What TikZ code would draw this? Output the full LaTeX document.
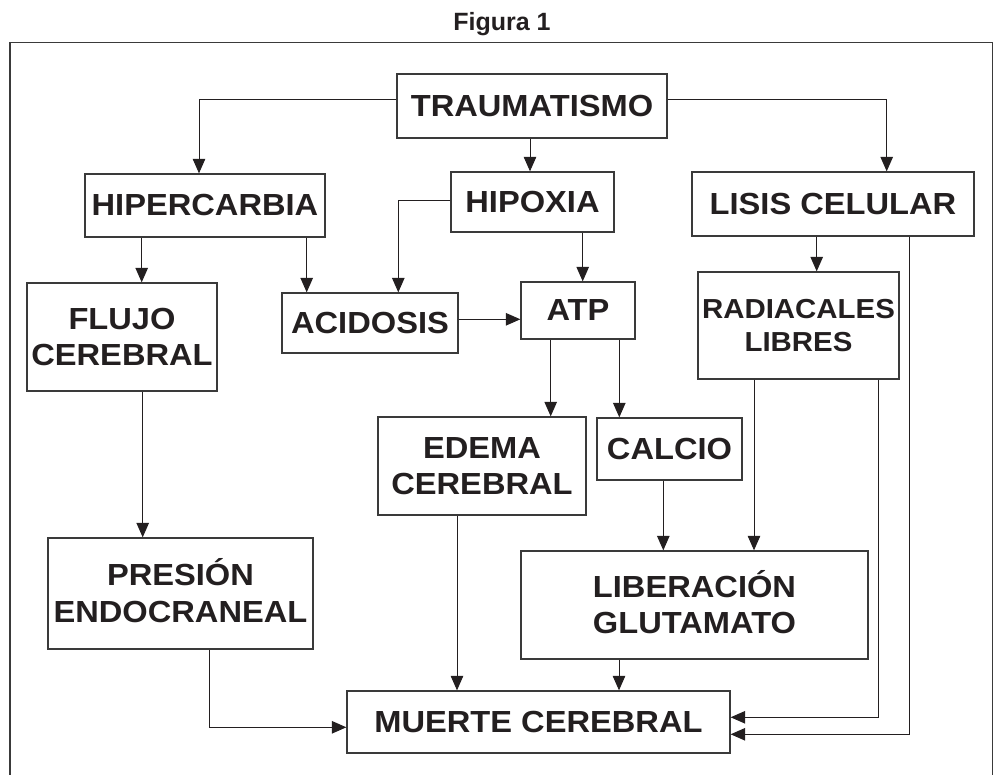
\documentclass[tikz,border=0pt]{standalone}
\usepackage{fontspec}
\setmainfont{Liberation Sans}
\newfontfamily\boxfont{Liberation Sans}[FakeStretch=1.07]
\usetikzlibrary{arrows.meta,calc}
\definecolor{ink}{HTML}{231F20}
\definecolor{edge}{HTML}{3A3A3A}
\tikzset{
  box/.style={draw=edge, line width=1.3pt, inner sep=0pt, text=ink,
    font=\boxfont\bfseries\fontsize{30.5}{36.5}\selectfont, align=center},
  conn/.style={draw=ink, line width=1pt, -{Triangle[length=14.5pt,width=12.5pt]}},
  plain/.style={draw=ink, line width=1pt}
}
\begin{document}
\begin{tikzpicture}[x=1pt,y=-1pt]
\useasboundingbox (0,0) rectangle (994,775);
% frame (open at the bottom)
\draw[edge, line width=1.3pt] (10,775) -- (10,42.5) -- (992.5,42.5) -- (992.5,775);
\node[anchor=base, text=ink, font=\bfseries\fontsize{25}{30}\selectfont] (title) at (502,30.7) {Figura 1};

% boxes
\node[box, minimum width=270pt, minimum height=64pt] (trauma) at (532,106) {TRAUMATISMO};
\node[box, minimum width=240pt, minimum height=63pt] (hiper) at (205,205.5) {HIPERCARBIA};
\node[box, minimum width=163pt, minimum height=60pt] (hipox) at (532.5,202) {HIPOXIA};
\node[box, minimum width=282pt, minimum height=64pt] (lisis) at (833,204) {LISIS CELULAR};
\node[box, minimum width=190pt, minimum height=108pt] (flujo) at (122,337) {FLUJO\\CEREBRAL};
\node[box, minimum width=176pt, minimum height=60pt] (acid) at (370,323) {ACIDOSIS};
\node[box, minimum width=114pt, minimum height=57pt] (atp) at (578,310.5) {ATP};
\node[box, minimum width=201pt, minimum height=107pt,
      font=\boxfont\bfseries\fontsize{27.5}{32.5}\selectfont] (radi) at (798.5,325.5) {RADIACALES\\LIBRES};
\node[box, minimum width=208pt, minimum height=98pt] (edema) at (482,466) {EDEMA\\CEREBRAL};
\node[box, minimum width=145pt, minimum height=62pt] (calcio) at (669.5,449) {CALCIO};
\node[box, minimum width=265pt, minimum height=111pt] (presion) at (180.5,593.5) {PRESI\smash{Ó}N\\ENDOCRANEAL};
\node[box, minimum width=347pt, minimum height=108pt] (liber) at (694.5,605) {LIBERACI\smash{Ó}N\\GLUTAMATO};
\node[box, minimum width=383pt, minimum height=62pt] (muerte) at (538.5,722) {MUERTE CEREBRAL};

% connectors
\draw[conn] ($(trauma.west)+(0,-6)$) -| ($(hiper.north)+(-6,0)$);
\draw[conn] ($(trauma.south)+(-2,0)$) coordinate (c1) -- (c1 |- hipox.north);
\draw[conn] ($(trauma.east)+(0,-6)$) -| ($(lisis.north)+(53.7,0)$);
\draw[conn] ($(hiper.south)+(-63.3,0)$) coordinate (c2) -- (c2 |- flujo.north);
\draw[conn] ($(hiper.south)+(101.7,0)$) coordinate (c3) -- (c3 |- acid.north);
\draw[conn] ($(hipox.west)+(0,-1.3)$) -| ($(acid.north)+(28.3,0)$);
\draw[conn] ($(hipox.south)+(50.2,0)$) coordinate (c4) -- (c4 |- atp.north);
\draw[conn] ($(acid.east)+(0,-3.7)$) coordinate (c5) -- (c5 -| atp.west);
\draw[conn] ($(atp.south)+(-27.3,0)$) coordinate (c6) -- (c6 |- edema.north);
\draw[conn] ($(atp.south)+(41.3,0)$) coordinate (c7) -- (c7 |- calcio.north);
\draw[conn] ($(lisis.south)+(-16.3,0)$) coordinate (c8) -- (c8 |- radi.north);
\draw[conn] ($(lisis.south)+(76,0)$) |- ($(muerte.east)+(0,12.3)$);
\draw[conn] ($(radi.south)+(-44.5,0)$) coordinate (c9) -- (c9 |- liber.north);
\draw[conn] ($(radi.south)+(79.5,0)$) |- ($(muerte.east)+(0,-4.7)$);
\draw[conn] ($(calcio.south)+(-6.2,0)$) coordinate (c10) -- (c10 |- liber.north);
\draw[conn] ($(flujo.south)+(20.7,0)$) coordinate (c11) -- (c11 |- presion.north);
\draw[conn] ($(edema.south)+(-25,0)$) coordinate (c12) -- (c12 |- muerte.north);
\draw[conn] ($(presion.south)+(28.8,0)$) |- ($(muerte.west)+(0,5.3)$);
\draw[conn] ($(liber.south)+(-75.5,0)$) coordinate (c13) -- (c13 |- muerte.north);
\end{tikzpicture}
\end{document}
